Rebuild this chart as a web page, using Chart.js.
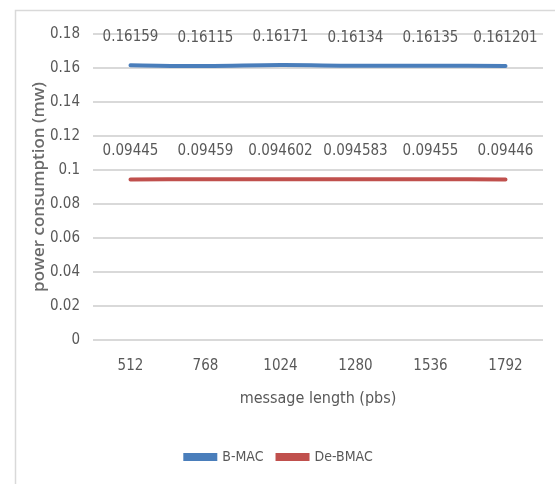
<!DOCTYPE html>
<html>
<head>
<meta charset="utf-8">
<script src="https://cdn.jsdelivr.net/npm/chart.js@4.4.1/dist/chart.umd.min.js"></script>
<style>
  html, body { margin: 0; padding: 0; background: #fff; }
  #wrap { width: 555px; height: 484px; }
</style>
</head>
<body>
<div id="wrap"><canvas id="chart" width="555" height="484"></canvas></div>
<script>
const categories = ['512', '768', '1024', '1280', '1536', '1792'];
const bmacValues = [0.16159, 0.16115, 0.16171, 0.16134, 0.16135, 0.161201];
const debmacValues = [0.09445, 0.09459, 0.094602, 0.094583, 0.09455, 0.09446];
const yTicks = [0, 0.02, 0.04, 0.06, 0.08, 0.1, 0.12, 0.14, 0.16, 0.18];

const FONT = "'Liberation Sans Narrow', 'Arial Narrow', 'DejaVu Sans Condensed', sans-serif";
const TEXT_COLOR = '#595959';
const BLUE = '#4a7ebb';
const RED = '#c0504d';

// sheet frame around the chart (Excel screenshot look)
const framePlugin = {
  id: 'frame',
  beforeDraw: (chart) => {
    const ctx = chart.ctx;
    ctx.save();
    ctx.fillStyle = '#fff';
    ctx.fillRect(0, 0, chart.width, chart.height);
    ctx.strokeStyle = '#d9d9d9';
    ctx.lineWidth = 1.5;
    ctx.beginPath();
    ctx.moveTo(15.5, chart.height);
    ctx.lineTo(15.5, 10.5);
    ctx.lineTo(chart.width, 10.5);
    ctx.stroke();
    ctx.restore();
  },
};

// value labels above each point
const valueLabelPlugin = {
  id: 'valueLabels',
  afterDatasetsDraw: (chart) => {
    const ctx = chart.ctx;
    ctx.save();
    ctx.font = `15px ${FONT}`;
    ctx.fillStyle = TEXT_COLOR;
    ctx.textAlign = 'center';
    ctx.textBaseline = 'middle';
    chart.data.datasets.forEach((ds, i) => {
      chart.getDatasetMeta(i).data.forEach((pt, j) => {
        ctx.fillText(String(ds.data[j]), pt.x, pt.y - 28);
      });
    });
    ctx.restore();
  },
};

const config = {
  type: 'line',
  data: {
    labels: categories,
    datasets: [
      {
        label: 'B-MAC',
        data: bmacValues,
        borderColor: BLUE,
        backgroundColor: BLUE,
        borderWidth: 4,
        pointRadius: 0,
        tension: 0.4,
        borderCapStyle: 'round',
      },
      {
        label: 'De-BMAC',
        data: debmacValues,
        borderColor: RED,
        backgroundColor: RED,
        borderWidth: 4,
        pointRadius: 0,
        tension: 0.4,
        borderCapStyle: 'round',
      },
    ],
  },
  options: {
    responsive: false,
    animation: false,
    layout: {
      padding: { left: 15, top: 34, right: 12, bottom: 10 },
    },
    plugins: {
      legend: {
        position: 'bottom',
        labels: {
          boxWidth: 30,
          boxHeight: 4,
          padding: 14,
          color: TEXT_COLOR,
          font: { family: FONT, size: 14 },
        },
      },
      tooltip: { enabled: false },
    },
    scales: {
      x: {
        offset: true,
        grid: { display: false },
        border: { display: false },
        ticks: {
          color: TEXT_COLOR,
          padding: 9,
          font: { family: FONT, size: 15 },
        },
        title: {
          display: true,
          text: 'message length (pbs)',
          color: TEXT_COLOR,
          font: { family: FONT, size: 16 },
          padding: { top: 12, bottom: 28 },
        },
        afterFit: (axis) => {
          axis.height = 96;
        },
      },
      y: {
        min: 0,
        max: 0.18,
        afterBuildTicks: (axis) => {
          axis.ticks = yTicks.map((v) => ({ value: v }));
        },
        grid: {
          color: '#d9d9d9',
          lineWidth: 2,
          drawTicks: false,
        },
        border: { display: false },
        ticks: {
          color: TEXT_COLOR,
          padding: 13,
          font: { family: FONT, size: 15 },
          callback: (value) => String(value),
        },
        title: {
          display: true,
          text: 'power consumption (mw)',
          color: '#6b6b6b',
          font: { family: "'Open Sans', sans-serif", size: 17, weight: '600' },
          padding: { top: 14, bottom: 0 },
        },
        afterFit: (axis) => {
          axis.width = 78;
        },
      },
    },
  },
  plugins: [framePlugin, valueLabelPlugin],
};

new Chart(document.getElementById('chart'), config);
</script>
</body>
</html>
